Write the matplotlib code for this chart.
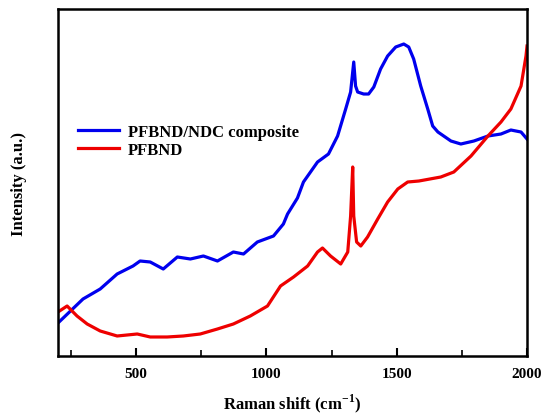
import matplotlib
matplotlib.use("Agg")
import matplotlib.pyplot as plt
from matplotlib.ticker import MultipleLocator

# Raman shift (cm^-1) and intensity (a.u.)
blue_x = [200, 296, 362, 427, 488, 515, 554, 604, 658, 708, 758, 812, 873, 912, 965,
          1027, 1065, 1081, 1119, 1142, 1196, 1238, 1273, 1304, 1323, 1335, 1342, 1350,
          1373, 1392, 1412, 1438, 1465, 1496, 1527, 1546, 1565, 1592, 1619, 1638, 1658,
          1708, 1746, 1796, 1850, 1900, 1938, 1977, 2000]
blue_y = [33, 57, 67, 82, 90, 95, 94, 87, 99, 97, 100, 95, 104, 102, 114,
          120, 132, 142, 158, 174, 194, 202, 220, 247, 264, 294, 270, 264,
          262, 262, 269, 287, 300, 309, 312, 309, 297, 270, 247, 230, 224,
          215, 212, 215, 220, 222, 226, 224, 217]

red_x = [200, 235, 273, 312, 362, 427, 504, 554, 619, 681, 746, 812, 873, 938, 1004,
         1054, 1104, 1158, 1196, 1215, 1246, 1285, 1312, 1323, 1331, 1335, 1346, 1362,
         1388, 1427, 1465, 1504, 1542, 1585, 1669, 1719, 1785, 1850, 1900, 1938, 1977,
         1996, 2000]
red_y = [44, 50, 40, 32, 25, 20, 22, 19, 19, 20, 22, 27, 32, 40, 50,
         70, 79, 90, 104, 108, 100, 92, 104, 140, 189, 140, 114, 110,
         119, 137, 154, 167, 174, 175, 179, 184, 200, 220, 234, 247, 270,
         300, 310]

fig = plt.figure(figsize=(5.44, 4.14), dpi=100)
ax = fig.add_axes([0.1066, 0.1377, 0.8622, 0.8381])

ax.plot(blue_x, blue_y, color="#0000ee", lw=2.3, label="PFBND/NDC composite")
ax.plot(red_x, red_y, color="#ee0000", lw=2.3, label="PFBND")

ax.set_xlim(200, 2000)
ax.set_ylim(0, 347)
ax.xaxis.set_major_locator(MultipleLocator(500))
ax.xaxis.set_minor_locator(MultipleLocator(250))
ax.set_yticks([])
ax.tick_params(axis="x", which="major", direction="in", length=6, width=1.5,
               top=False, pad=8)
ax.tick_params(axis="x", which="minor", direction="in", length=4, width=1.2, top=False)
for s in ax.spines.values():
    s.set_linewidth(1.8)

font = "Liberation Serif"
for lab in ax.get_xticklabels():
    lab.set_fontfamily(font)
    lab.set_fontweight("bold")
    lab.set_fontsize(11)

ax.set_xlabel("Raman shift (cm$^{\\mathregular{-1}}$)", fontfamily=font, fontweight="bold",
              fontsize=12, labelpad=8)
ax.set_ylabel("Intensity (a.u.)", fontfamily=font, fontweight="bold", fontsize=12,
              labelpad=22)

leg = ax.legend(loc="center left", bbox_to_anchor=(0.01, 0.62), frameon=False,
                prop={"family": font, "weight": "bold", "size": 12},
                handlelength=2.5, handletextpad=0.5, labelspacing=0.15)

fig.savefig("out.png", dpi=100)
